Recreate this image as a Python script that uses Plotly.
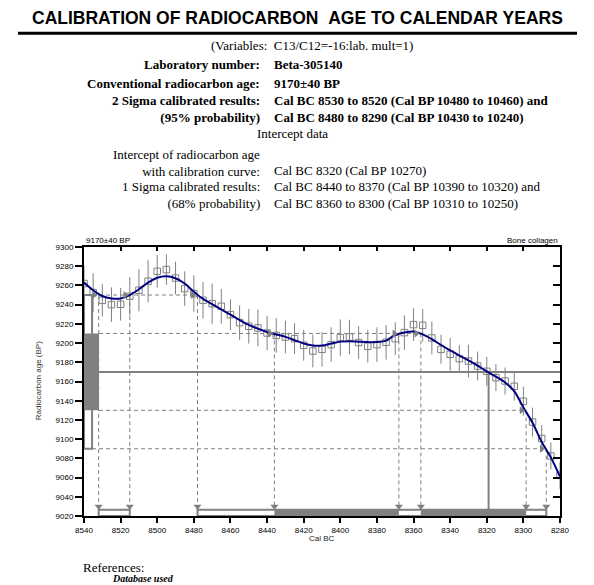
import plotly.graph_objects as go

# ---------------- data ----------------
cal_years = [8540, 8535, 8530, 8525, 8520, 8515, 8510, 8505, 8500, 8495, 8490, 8485, 8480,
             8475, 8470, 8465, 8460, 8455, 8450, 8445, 8440, 8435, 8430, 8425, 8420, 8415,
             8410, 8405, 8400, 8395, 8390, 8385, 8380, 8375, 8370, 8365, 8360, 8355, 8350,
             8345, 8340, 8335, 8330, 8325, 8320, 8315, 8310, 8305, 8300, 8295, 8290, 8285, 8280]

# calibration data points (squares) and their 1-sigma errors
point_ages = [9262, 9252.5, 9244.5, 9240, 9240.4, 9248.7, 9255, 9264.3, 9274.7, 9276.5, 9267.7, 9256.7, 9251.5,
              9244.5, 9241, 9238.3, 9229.6, 9221.3, 9217.5, 9215.7, 9210.5, 9208, 9206.3, 9204.6, 9197.7, 9191.7,
              9193.5, 9198.4, 9205.7, 9206.3, 9200.5, 9196.6, 9198.4, 9200.8, 9204.6, 9210.9, 9219.2, 9218.5, 9205.3,
              9193.5, 9188.3, 9183.8, 9181.3, 9176.1, 9170.6, 9164, 9160.5, 9155, 9139.4, 9117.8, 9100.6, 9082.5, 9062.3]
point_err = [18, 20, 17, 18, 17, 20, 22, 22, 17, 16, 17, 18, 19,
             19, 21, 18, 16, 18, 18, 19, 18, 18, 17, 16, 16, 17,
             18, 18, 19, 18, 17, 17, 18, 18, 17, 18, 17, 17, 17,
             15, 17, 14, 17, 15, 15, 14, 14, 15, 15, 15, 14, 14, 14]

# smoothed calibration curve
curve_ages = [9263, 9255, 9249, 9246.5, 9246.5, 9250, 9256, 9263, 9268, 9269.5, 9267.5, 9262, 9253.5,
              9246, 9240.5, 9235, 9229.5, 9224, 9219, 9215, 9211.5, 9209, 9206.5, 9203, 9199.5, 9197.5,
              9197.5, 9199.5, 9201.5, 9202, 9201.5, 9201, 9201, 9202.5, 9208.5, 9211, 9212, 9209, 9204,
              9198, 9192.5, 9187, 9182, 9176.5, 9170.5, 9165, 9159, 9150, 9133, 9117, 9097, 9081, 9061]

c14_age = 9170
c14_sd = 40
one_sigma_ages = [9130, 9210]
two_sigma_ages = [9090, 9250]
intercept_year = 8319

# calibrated ranges (cal BC), as drawn
two_sigma_ranges = [(8532, 8515), (8478, 8287.5)]
one_sigma_ranges = [(8436, 8368), (8356, 8298.5)]
# crossings: (cal BC, age level)
crossings = [(8532, 9250), (8515, 9250), (8478, 9250), (8436, 9210), (8368, 9210),
             (8356, 9210), (8298.5, 9130), (8287.5, 9090)]

x_ticks = [8540, 8520, 8500, 8480, 8460, 8440, 8420, 8400, 8380, 8360, 8340, 8320, 8300, 8280]
y_ticks = [9020, 9040, 9060, 9080, 9100, 9120, 9140, 9160, 9180, 9200, 9220, 9240, 9260, 9280, 9300]

# ---------------- layout constants ----------------
W, H = 594, 585
L, R, T, B = 84, 560, 246.7, 515.7
X0, X1 = 8540, 8280
Y0, Y1 = 9020, 9300
GRAY = "#808080"
NAVY = "#000080"
SERIF = "Liberation Serif, Times New Roman, serif"
SANS = "Liberation Sans, Arial, sans-serif"

BOX2_W = 4.4   # width (yrs) of the 2-sigma box on the age axis
BOX1_W = 8.2   # width (yrs) of the 1-sigma box on the age axis
BAR_H = 6.5    # height (yrs BP) of the calendar bars
ARROW_Y = 9030


def px(x):
    return (x - L) / (R - L)


def py(y):
    return (B - y) / (B - T)


fig = go.Figure()

# ---------------- shapes ----------------
shapes = []
dash = "4px,3px"
# left (age axis) boxes
shapes.append(dict(type="rect", xref="x", yref="y", x0=X0, x1=X0 - BOX2_W,
                   y0=two_sigma_ages[0], y1=two_sigma_ages[1],
                   line=dict(color=GRAY, width=2), fillcolor="white", layer="below"))
shapes.append(dict(type="rect", xref="x", yref="y", x0=X0, x1=X0 - BOX1_W,
                   y0=one_sigma_ages[0], y1=one_sigma_ages[1],
                   line=dict(color=GRAY, width=0), fillcolor=GRAY, layer="below"))
# horizontal dashed lines to last crossing of each level
for lvl in two_sigma_ages + one_sigma_ages:
    xs = [c[0] for c in crossings if c[1] == lvl]
    start = X0 - (BOX2_W if lvl in two_sigma_ages else BOX1_W)
    shapes.append(dict(type="line", xref="x", yref="y", x0=start, x1=min(xs), y0=lvl, y1=lvl,
                       line=dict(color=GRAY, width=1, dash=dash), layer="below"))
# vertical dashed lines from crossings down to the bars
for cx, lvl in crossings:
    shapes.append(dict(type="line", xref="x", yref="y", x0=cx, x1=cx, y0=lvl, y1=ARROW_Y,
                       line=dict(color=GRAY, width=1, dash=dash), layer="below"))
# radiocarbon age line and intercept
shapes.append(dict(type="line", xref="x", yref="y", x0=X0 - BOX1_W, x1=X1, y0=c14_age, y1=c14_age,
                   line=dict(color=GRAY, width=2), layer="below"))
shapes.append(dict(type="line", xref="x", yref="y", x0=intercept_year, x1=intercept_year,
                   y0=c14_age, y1=Y0 + BAR_H, line=dict(color=GRAY, width=2), layer="below"))
# calendar bars
for a, b in two_sigma_ranges:
    shapes.append(dict(type="rect", xref="x", yref="y", x0=a, x1=b, y0=Y0, y1=Y0 + BAR_H,
                       line=dict(color=GRAY, width=2), fillcolor="white", layer="below"))
for a, b in one_sigma_ranges:
    shapes.append(dict(type="rect", xref="x", yref="y", x0=a, x1=b, y0=Y0, y1=Y0 + BAR_H,
                       line=dict(color=GRAY, width=0), fillcolor=GRAY, layer="below"))
# title underline
shapes.append(dict(type="line", xref="paper", yref="paper", x0=px(18), x1=px(577), y0=py(33), y1=py(33),
                   line=dict(color="black", width=3)))

# ---------------- traces ----------------
fig.add_trace(go.Scatter(x=cal_years, y=point_ages, mode="markers",
                         marker=dict(symbol="square-open", size=6.5, color=GRAY, line=dict(width=1, color=GRAY)),
                         error_y=dict(type="data", array=point_err, color=GRAY, thickness=1, width=0),
                         showlegend=False, hoverinfo="skip"))
fig.add_trace(go.Scatter(x=cal_years, y=curve_ages, mode="lines",
                         line=dict(color=NAVY, width=2, shape="spline", smoothing=0.8),
                         showlegend=False, hoverinfo="skip"))
fig.add_trace(go.Scatter(x=[c[0] + 2.5 for c in crossings], y=[c[1] for c in crossings], mode="markers",
                         marker=dict(symbol="triangle-right", size=7, color=GRAY),
                         showlegend=False, hoverinfo="skip"))
fig.add_trace(go.Scatter(x=[c[0] for c in crossings], y=[ARROW_Y] * len(crossings), mode="markers",
                         marker=dict(symbol="triangle-down", size=7, color=GRAY),
                         showlegend=False, hoverinfo="skip"))
# dummy trace for mirrored (inside) tick axes
fig.add_trace(go.Scatter(x=[X0], y=[Y0], xaxis="x2", yaxis="y2", mode="markers",
                         marker=dict(opacity=0), showlegend=False, hoverinfo="skip"))

# ---------------- annotations ----------------
ann = []


def add(text, x, y, size=13, xanchor="left", font=SERIF, color="black", angle=0):
    ann.append(dict(text=text, x=px(x), y=py(y), xref="paper", yref="paper", showarrow=False,
                    xanchor=xanchor, yanchor="middle", textangle=angle, align=xanchor,
                    font=dict(family=font, size=size, color=color)))


add("<b>CALIBRATION OF RADIOCARBON\u00a0\u00a0AGE TO CALENDAR YEARS</b>", 297, 18, size=17.5,
    xanchor="center", font=SANS)
add("(Variables:\u00a0\u00a0C13/C12=-16:lab. mult=1)", 312, 45, xanchor="center")
LX, VX = 262, 272
add("<b>Laboratory number:</b>", LX, 64, xanchor="right")
add("<b>Beta-305140</b>", VX, 64)
add("<b>Conventional radiocarbon age:</b>", LX, 83, xanchor="right")
add("<b>9170±40 BP</b>", VX, 83)
add("<b>2 Sigma calibrated results:</b><br><b>(95% probability)</b>", LX, 108.5, xanchor="right")
add("<b>Cal BC 8530 to 8520 (Cal BP 10480 to 10460) and</b><br>"
    "<b>Cal BC 8480 to 8290 (Cal BP 10430 to 10240)</b>", VX, 108.5)
add("Intercept data", 292, 133, xanchor="center")
add("Intercept of radiocarbon age<br>with calibration curve:", LX, 162.5, xanchor="right")
add("Cal BC 8320 (Cal BP 10270)", VX, 170.5)
add("1 Sigma calibrated results:<br>(68% probability)", LX, 194.5, xanchor="right")
add("Cal BC 8440 to 8370 (Cal BP 10390 to 10320) and<br>"
    "Cal BC 8360 to 8300 (Cal BP 10310 to 10250)", VX, 194.5)

add("9170±40 BP", 84, 240, size=8, font=SANS)
add("Bone collagen", 560, 240, size=8, font=SANS, xanchor="right")
add("Radiocarbon age (BP)", 38, 381, size=8, font=SANS, xanchor="center", color="#333333", angle=-90)
add("Cal BC", 322, 538, size=8, font=SANS, xanchor="center", color="#222222")
add("References:", 81, 567, size=13)
add("<b><i>Database used</i></b>", 110, 578, size=10)

fig.update_layout(
    width=W, height=H,
    margin=dict(l=L, r=W - R, t=T, b=H - B, pad=0),
    paper_bgcolor="white", plot_bgcolor="white",
    shapes=shapes, annotations=ann,
    xaxis=dict(range=[X0, X1], tickmode="array", tickvals=x_ticks, ticktext=[str(v) for v in x_ticks],
               ticks="outside", ticklen=5, tickwidth=2, tickcolor="black",
               showline=True, linewidth=2, linecolor="black", mirror=True,
               showgrid=False, zeroline=False, tickfont=dict(family=SANS, size=8, color="black")),
    yaxis=dict(range=[Y0, Y1], tickmode="array", tickvals=y_ticks, ticktext=[str(v) for v in y_ticks],
               ticks="outside", ticklen=7, tickwidth=2, tickcolor="black",
               showline=True, linewidth=2, linecolor="black", mirror=True,
               showgrid=False, zeroline=False, tickfont=dict(family=SANS, size=8, color="black")),
    xaxis2=dict(range=[X0, X1], overlaying="x", side="top", anchor="y", tickmode="array", tickvals=x_ticks,
                ticks="inside", ticklen=4, tickwidth=2, tickcolor="black", showticklabels=False,
                showline=False, showgrid=False, zeroline=False),
    yaxis2=dict(range=[Y0, Y1], overlaying="y", side="right", anchor="x", tickmode="array", tickvals=y_ticks,
                ticks="inside", ticklen=7, tickwidth=2, tickcolor="black", showticklabels=False,
                showline=False, showgrid=False, zeroline=False),
)

fig.write_html("out.html", config={"displayModeBar": False},
               post_script="document.body.style.margin='0';document.body.style.padding='0';")
